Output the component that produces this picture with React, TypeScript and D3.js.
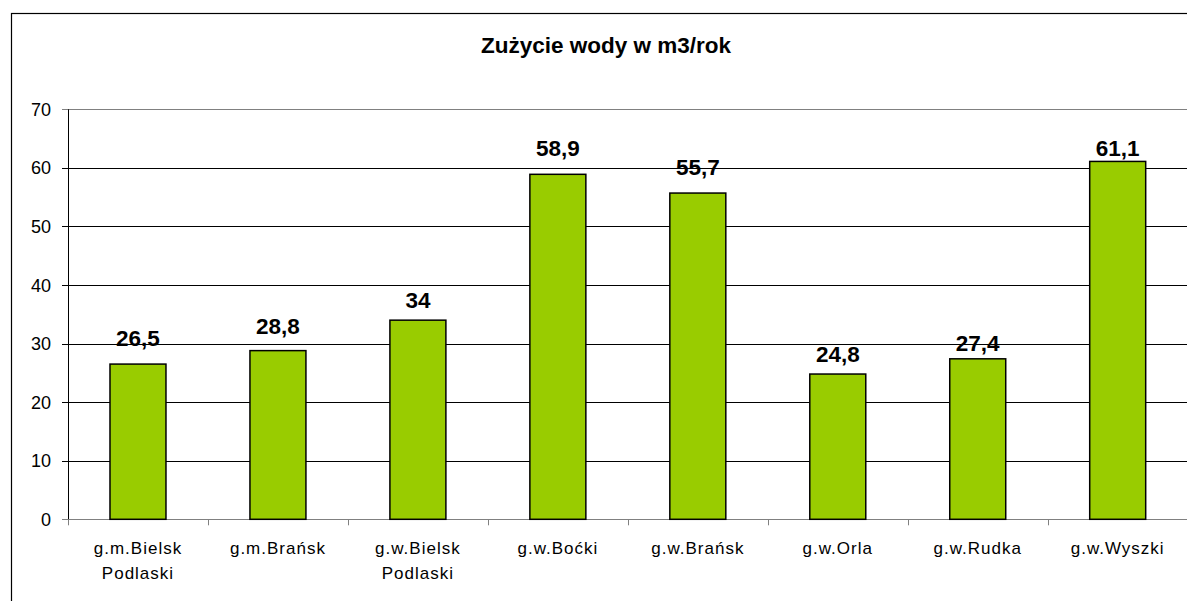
import React from "react";
import * as d3 from "d3";

const categories: string[][] = [
  ["g.m.Bielsk", "Podlaski"],
  ["g.m.Brańsk"],
  ["g.w.Bielsk", "Podlaski"],
  ["g.w.Boćki"],
  ["g.w.Brańsk"],
  ["g.w.Orla"],
  ["g.w.Rudka"],
  ["g.w.Wyszki"],
];
const values: number[] = [26.5, 28.8, 34, 58.9, 55.7, 24.8, 27.4, 61.1];
const labelGap: number[] = [18, 17, 12, 18, 18, 12, 8, 5];
const yTicks: number[] = [0, 10, 20, 30, 40, 50, 60, 70];
const title = "Zużycie wody w m3/rok";

const W = 1187;
const H = 601;
const FONT = "'Liberation Sans', Arial, sans-serif";

export default function App() {
  const left = 68;
  const step = 139.96;
  const x = d3
    .scaleBand<number>()
    .domain(d3.range(categories.length))
    .range([left, left + step * categories.length])
    .padding(0);
  const y = d3.scaleLinear().domain([0, 70]).range([519.3, 109.3]);
  const bw = x.bandwidth() * 0.4;
  const fmt = (v: number) => String(v).replace(".", ",");

  return (
    <svg
      width={W}
      height={H}
      style={{ position: "absolute", left: 0, top: 0, background: "#fff" }}
      fontFamily={FONT}
    >
      <rect x={0} y={0} width={W} height={H} fill="#fff" />
      <rect x={11.5} y={13.5} width={W + 20} height={H + 20} fill="none" stroke="#000" strokeWidth={1.2} />
      <text x={606} y={53} textAnchor="middle" fontSize={22.5} fontWeight="bold" fill="#000">
        {title}
      </text>
      {yTicks.map((t) => (
        <g key={t}>
          <line
            x1={left - 6}
            x2={W}
            y1={Math.round(y(t)) + 0.5}
            y2={Math.round(y(t)) + 0.5}
            stroke={t === 0 || t === 70 ? "#808080" : "#000"}
            strokeWidth={1}
          />
          <text x={51} y={y(t) + 6.5} textAnchor="end" fontSize={18} fill="#000">
            {t}
          </text>
        </g>
      ))}
      <line x1={left + 0.5} x2={left + 0.5} y1={y(70)} y2={y(0)} stroke="#000" strokeWidth={1} />
      {d3.range(categories.length + 1).map((i) => (
        <line
          key={i}
          x1={Math.round(left + i * step) + 0.5}
          x2={Math.round(left + i * step) + 0.5}
          y1={y(0)}
          y2={y(0) + 6}
          stroke="#808080"
          strokeWidth={1}
        />
      ))}
      {values.map((v, i) => {
        const cx = (x(i) as number) + x.bandwidth() / 2;
        return (
          <g key={i}>
            <rect
              x={cx - bw / 2}
              y={y(v)}
              width={bw}
              height={y(0) - y(v)}
              fill="#99CC00"
              stroke="#000"
              strokeWidth={1.5}
            />
            <text x={cx} y={y(v) - labelGap[i]} textAnchor="middle" fontSize={22.5} fontWeight="bold" fill="#000">
              {fmt(v)}
            </text>
            {categories[i].map((line, j) => (
              <text
                key={j}
                x={cx}
                y={554 + j * 24.5}
                textAnchor="middle"
                fontSize={17}
                letterSpacing={1}
                fill="#000"
              >
                {line}
              </text>
            ))}
          </g>
        );
      })}
    </svg>
  );
}
